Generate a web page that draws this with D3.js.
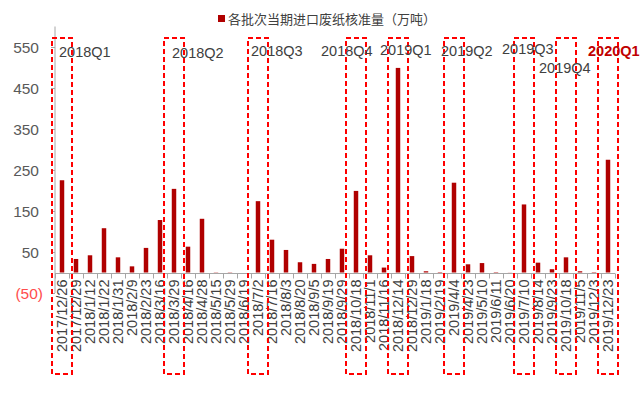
<!DOCTYPE html>
<html>
<head>
<meta charset="utf-8">
<script src="https://cdn.jsdelivr.net/npm/d3@7"></script>
<style>
  html, body { margin: 0; padding: 0; background: #fff; }
  svg { display: block; font-family: "Liberation Sans", Arial, sans-serif; }
</style>
</head>
<body>
<svg id="chart" width="640" height="393"></svg>
<script>
// ---- data ----
const categories = [
  "2017/12/26","2017/12/29","2018/1/12","2018/1/22","2018/1/31","2018/2/9","2018/2/23","2018/3/16",
  "2018/3/29","2018/4/16","2018/4/28","2018/5/15","2018/5/29","2018/6/19","2018/7/2","2018/7/16",
  "2018/8/3","2018/8/20","2018/9/5","2018/9/19","2018/9/29","2018/10/18","2018/11/1","2018/11/16",
  "2018/12/14","2018/12/29","2019/1/18","2019/2/19","2019/4/4","2019/4/23","2019/5/10","2019/6/11",
  "2019/6/20","2019/7/10","2019/8/14","2019/9/23","2019/10/18","2019/11/5","2019/12/3","2019/12/23"
];
const values = [
  225, 33, 42, 108, 37, 15, 60, 128,
  204, 63, 131, 0.6, 0.6, 0, 174, 80,
  55, 25, 21, 33, 58, 199, 42, 12,
  499, 40, 3, 1, 219, 20, 23, 1,
  0.3, 166, 24, 8, 37, 3, 1, 275
];
const seriesName = "各批次当期进口废纸核准量（万吨）";
const yTicks = [550, 450, 350, 250, 150, 50, -50];
const quarterCats = ["2017/12/26","2018/3/29","2018/7/2","2018/10/18","2018/12/14","2019/4/4","2019/7/10","2019/10/18","2019/12/23"];
const quarterLabels = ["2018Q1","2018Q2","2018Q3","2018Q4","2019Q1","2019Q2","2019Q3","2019Q4","2020Q1"];

// ---- layout ----
const svg = d3.select("#chart");
const x = d3.scaleBand().domain(categories).range([55, 615]).paddingInner(0.68).paddingOuter(0.34);
const xb = d3.scaleBand().domain(categories).range([55, 615]);
const y = d3.scaleLinear().domain([-50, 550]).range([293, 47]);

const axisColor = "#A6A6A6";

// y axis
svg.append("line").attr("x1", 55).attr("x2", 55).attr("y1", y(600)).attr("y2", y(-50))
  .attr("stroke", axisColor).attr("stroke-width", 1);
const yg = svg.append("g");
yg.selectAll("line.tk").data(yTicks).join("line")
  .attr("x1", 51).attr("x2", 55).attr("y1", d => Math.round(y(d)) + 0.5).attr("y2", d => Math.round(y(d)) + 0.5)
  .attr("stroke", axisColor);
yg.selectAll("text").data(yTicks).join("text")
  .attr("x", d => d < 0 ? 43 : 39)
  .attr("y", d => y(d))
  .attr("dy", "0.36em")
  .attr("text-anchor", "end")
  .attr("font-size", 15.5)
  .attr("fill", d => d < 0 ? "#FF4D4D" : "#595959")
  .text(d => d < 0 ? "(" + Math.abs(d) + ")" : d);

// bars
svg.append("g").selectAll("rect").data(categories).join("rect")
  .attr("x", (d) => x(d))
  .attr("width", x.bandwidth())
  .attr("y", (d, i) => y(Math.max(0, values[i])))
  .attr("height", (d, i) => Math.abs(y(values[i]) - y(0)))
  .attr("fill", "#B00000");

// x axis
const y0 = Math.round(y(0)) + 0.5;
svg.append("line").attr("x1", 55).attr("x2", 615).attr("y1", y0).attr("y2", y0)
  .attr("stroke", axisColor);
const xt = d3.range(categories.length + 1).map(i => 55 + i * xb.step());
svg.append("g").selectAll("line").data(xt).join("line")
  .attr("x1", d => Math.round(d) + 0.5).attr("x2", d => Math.round(d) + 0.5)
  .attr("y1", y0).attr("y2", y0 + 5).attr("stroke", axisColor);
svg.append("g").selectAll("text").data(categories).join("text")
  .attr("transform", d => `translate(${xb(d) + xb.bandwidth() / 2 + 5},${y0 + 6}) rotate(-90)`)
  .attr("text-anchor", "end")
  .attr("font-size", 14.5)
  .attr("fill", "#404040")
  .text(d => d);

// quarter boxes
const boxHalf = 10;
svg.append("g").selectAll("rect").data(quarterCats).join("rect")
  .attr("x", d => xb(d) + xb.bandwidth() / 2 - boxHalf)
  .attr("y", 38)
  .attr("width", boxHalf * 2)
  .attr("height", 336)
  .attr("fill", "none")
  .attr("stroke", "#FF0000")
  .attr("stroke-width", 2)
  .attr("stroke-dasharray", "5,3");

// quarter labels (offsets relative to box centre)
const labelOffsets = [[-3, 57], [-2, 58], [-7, 56], [-35, 56], [-18, 55], [-13, 56], [-22, 54], [-27, 73], [-20, 56]];
svg.append("g").selectAll("text").data(quarterLabels).join("text")
  .attr("x", (d, i) => xb(quarterCats[i]) + xb.bandwidth() / 2 + labelOffsets[i][0])
  .attr("y", (d, i) => labelOffsets[i][1])
  .attr("font-size", 14.5)
  .attr("font-weight", (d, i) => i === quarterLabels.length - 1 ? "bold" : "normal")
  .attr("fill", (d, i) => i === quarterLabels.length - 1 ? "#C00000" : "#404040")
  .text(d => d);

// legend
const lg = svg.append("g");
lg.append("rect").attr("x", 218).attr("y", 15).attr("width", 7).attr("height", 7).attr("fill", "#B00000");
lg.append("text").attr("x", 228).attr("y", 23.5)
  .attr("font-family", "'Noto Sans CJK SC', sans-serif")
  .attr("font-size", 13).attr("fill", "#404040")
  .text(seriesName);
</script>
</body>
</html>
